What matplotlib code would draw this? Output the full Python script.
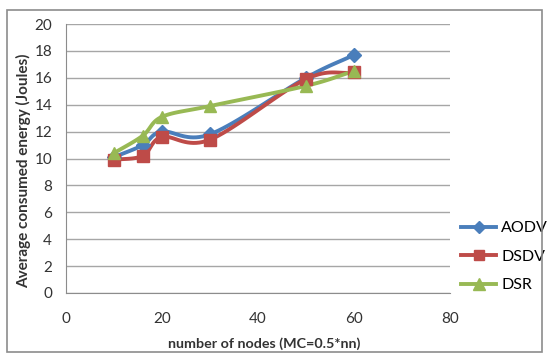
import numpy as np
import matplotlib
matplotlib.use("Agg")
import matplotlib.pyplot as plt
from matplotlib.patches import Rectangle

# Data
nodes = [10, 16, 20, 30, 50, 60]
aodv = [10.1, 11.0, 12.0, 11.8, 16.0, 17.7]
dsdv = [9.9, 10.2, 11.6, 11.4, 15.9, 16.4]
dsr = [10.4, 11.7, 13.1, 13.9, 15.4, 16.5]

series = [
    ("AODV", aodv, "#4A7EBB", "D", 7),
    ("DSDV", dsdv, "#BE4B48", "s", 8),
    ("DSR", dsr, "#98B954", "^", 9),
]


def smooth(x, y, n=20):
    # Excel-style smoothed line (Catmull-Rom through the points)
    x = np.asarray(x, float)
    y = np.asarray(y, float)
    px = np.concatenate([[2 * x[0] - x[1]], x, [2 * x[-1] - x[-2]]])
    py = np.concatenate([[2 * y[0] - y[1]], y, [2 * y[-1] - y[-2]]])
    xs, ys = [], []
    t = np.linspace(0, 1, n)
    for i in range(1, len(px) - 2):
        for arr, out in ((px, xs), (py, ys)):
            p0, p1, p2, p3 = arr[i - 1], arr[i], arr[i + 1], arr[i + 2]
            seg = 0.5 * ((2 * p1) + (-p0 + p2) * t
                         + (2 * p0 - 5 * p1 + 4 * p2 - p3) * t ** 2
                         + (-p0 + 3 * p1 - 3 * p2 + p3) * t ** 3)
            out.extend(seg)
    return np.array(xs), np.array(ys)


plt.rcParams['font.family'] = ['Lato', 'DejaVu Sans']

fig = plt.figure(figsize=(5.5, 3.62), dpi=100)
fig.patches.append(Rectangle((7 / 550, 1 - 352 / 362), 535 / 550, 342 / 362,
                             transform=fig.transFigure, fill=False,
                             edgecolor="#8c8c8c", linewidth=1.2))

ax = fig.add_axes([66 / 550, 1 - 293 / 362, 384 / 550, 269 / 362])

for name, vals, color, marker, ms in series:
    sx, sy = smooth(nodes, vals)
    ax.plot(sx, sy, color=color, linewidth=2.8, zorder=3)
    ax.plot(nodes, vals, linestyle="none", marker=marker, markersize=ms,
            color=color, zorder=4)
    ax.plot([], [], color=color, linewidth=2.8, marker=marker,
            markersize=ms - 1, label=name)

ax.set_xlim(0, 80)
ax.set_ylim(0, 20)
ax.set_xticks(range(0, 81, 20))
ax.set_yticks(range(0, 21, 2))
ax.yaxis.grid(True, color="#a6a6a6", linewidth=1)
ax.set_axisbelow(True)
for side in ("top", "right"):
    ax.spines[side].set_visible(False)
for side in ("left", "bottom"):
    ax.spines[side].set_color("#8c8c8c")
ax.tick_params(length=0, labelsize=11, colors="#333333")
ax.tick_params(axis="x", pad=14)
ax.tick_params(axis="y", pad=10)

ax.set_xlabel("number of nodes (MC=0.5*nn)", fontsize=10.3, fontweight="bold",
              color="#333333")
ax.xaxis.set_label_coords(0.515, -0.165)
ax.set_ylabel("Average consumed energy (Joules)", fontsize=11,
              fontweight="bold", color="#333333")
ax.yaxis.set_label_coords(-0.09, 0.455)

ax.legend(loc="center left", bbox_to_anchor=(1.0, 0.135), frameon=False,
          fontsize=11.5, handlelength=2.2, handletextpad=0.3,
          labelspacing=0.9, borderaxespad=0.3)

fig.savefig("out.png", dpi=100)
